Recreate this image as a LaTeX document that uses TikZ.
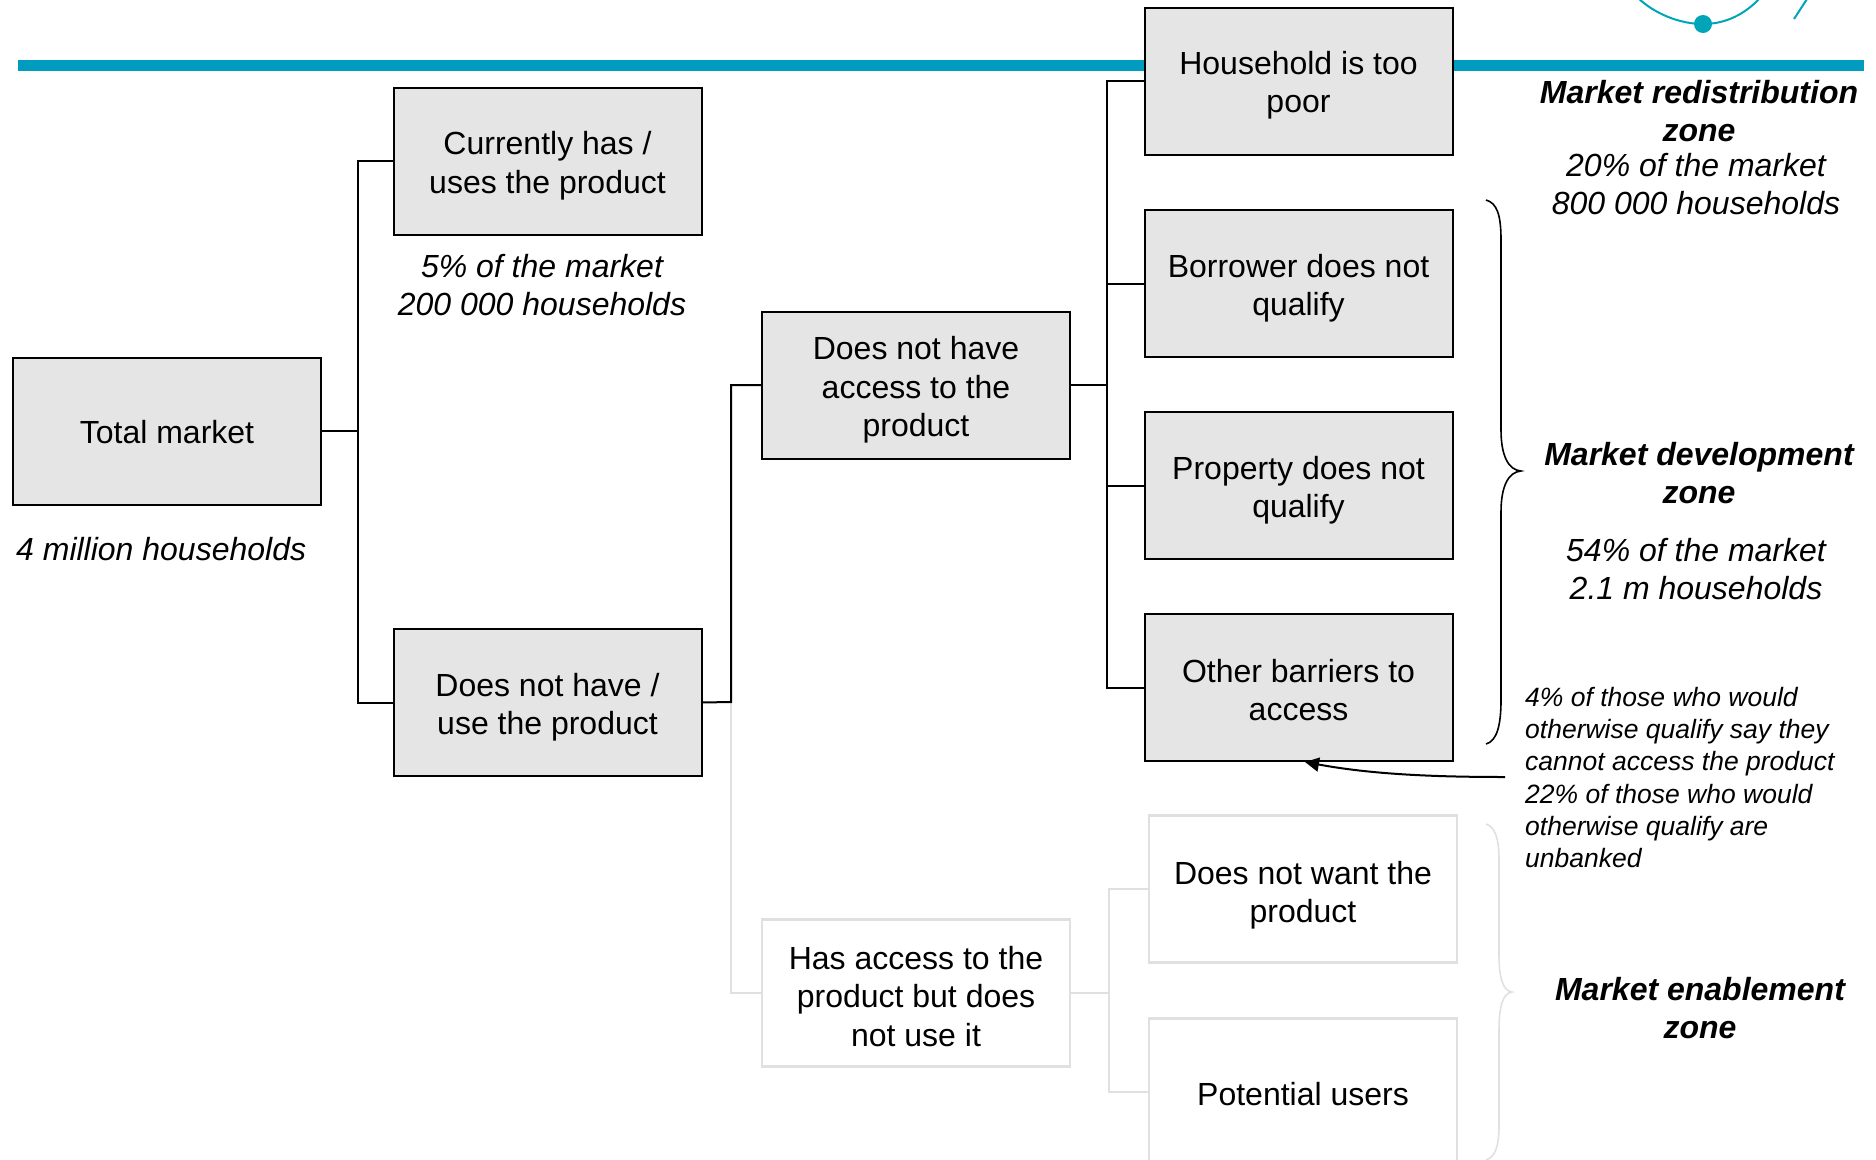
\documentclass[tikz,border=0pt]{standalone}
\usepackage{fontspec}
\setmainfont{Liberation Sans}
\usetikzlibrary{arrows.meta}
\definecolor{teal1}{HTML}{009CC0}
\definecolor{teal2}{HTML}{00A5B8}
\definecolor{boxgrey}{HTML}{E5E5E5}
\definecolor{linegrey}{HTML}{E0E0E0}
\newcommand{\boxlines}[2]{\vbox{\kern#1pt\hsize=300pt\centering #2\par}}
\tikzset{
  x=1pt,y=-1pt,
  boxtext/.style={font=\fontsize{32}{38.2}\selectfont,text=black,inner sep=0pt,outer sep=0pt,minimum width=308pt,minimum height=147pt},
  darkbox/.style={boxtext,draw=black,fill=boxgrey,line width=2pt},
  lightbox/.style={boxtext,draw=linegrey,fill=white,line width=2.6pt},
  darkline/.style={draw=black,line width=2pt},
  lightline/.style={draw=linegrey,line width=2.4pt},
  noteit/.style={font=\fontsize{32}{38.2}\selectfont\itshape,align=center,inner sep=0pt,text=black},
  zonehead/.style={font=\fontsize{32}{38.2}\selectfont\bfseries\itshape,align=center,inner sep=0pt},
  smallnote/.style={font=\fontsize{26.5}{32.2}\selectfont\itshape,align=left,inner sep=0pt,text=black},
}
\begin{document}
\begin{tikzpicture}
\useasboundingbox (0,0) rectangle (1876,1159);
\clip (0,0) rectangle (1876,1159);
% top band and logo fragment
\fill[teal1] (18,60) rectangle (1864,71);
\draw[teal2,line width=2pt] (1638,-2) .. controls (1655,14) and (1680,24) .. (1703,24) .. controls (1726,24) and (1745,14) .. (1760,-2);
\fill[teal2] (1703,24) circle (9);
\draw[teal2,line width=2pt] (1807,-1) -- (1794,19);
% junctions
\coordinate (j1) at (358,431);
\coordinate (j2) at (731,702);
\coordinate (j3) at (1107,385);
\coordinate (j4) at (1109,993);
% light connectors first
\node[lightbox] (hasacc) at (916,993) {\boxlines{7}{Has access to the\\product but does\\not use it}};
\node[lightbox] (nowant) at (1303,889) {\boxlines{12}{Does not want the\\product}};
\node[lightbox] (potent) at (1303,1092) {\boxlines{4.8}{Potential users}};
\draw[lightline] (j2) |- (hasacc.west);
\draw[lightline] (hasacc.east) -- (j4);
\draw[lightline] (nowant.west) -| (j4) |- (potent.west);
% dark boxes
\node[darkbox] (total) at (167,431) {\boxlines{2.4}{Total market}};
\node[darkbox] (curr) at (547.5,161) {\boxlines{9.6}{Currently has /\\uses the product}};
\node[darkbox] (nouse) at (547.5,702.5) {\boxlines{9.6}{Does not have /\\use the product}};
\node[darkbox] (noacc) at (916,385) {\boxlines{9.6}{Does not have\\access to the\\product}};
\node[darkbox] (poor) at (1298.5,81) {\boxlines{8.4}{Household is too\\poor}};
\node[darkbox] (borrow) at (1298.5,283.5) {\boxlines{9.6}{Borrower does not\\qualify}};
\node[darkbox] (prop) at (1298.5,485.5) {\boxlines{9.6}{Property does not\\qualify}};
\node[darkbox] (other) at (1298.5,687.5) {\boxlines{4.8}{Other barriers to\\access}};
% dark connectors
\draw[darkline] (total.east) -- (j1);
\draw[darkline] (curr.west) -| (j1) |- (nouse.west);
\draw[darkline] (nouse.east) -- (j2) |- (noacc.west);
\draw[darkline] (noacc.east) -- (j3);
\draw[darkline] (poor.west) -| (j3);
\draw[darkline] (borrow.west) -| (j3);
\draw[darkline] (prop.west) -| (j3);
\draw[darkline] (other.west) -| (j3);
% braces
\draw[black,line width=1.6pt] (1486,200) .. controls (1497,203) and (1501,215) .. (1501,240) -- (1501,430) .. controls (1501,455) and (1508,470) .. (1521,471) .. controls (1508,472) and (1501,487) .. (1501,512) -- (1501,700) .. controls (1501,725) and (1497,741) .. (1486,744);
\draw[linegrey,line width=1.6pt] (1486,824) .. controls (1495,827) and (1499,838) .. (1499,860) -- (1499,955) .. controls (1499,978) and (1503,991) .. (1512,992) .. controls (1503,993) and (1499,1006) .. (1499,1030) -- (1499,1125) .. controls (1499,1147) and (1495,1157) .. (1486,1160);
% callout
\coordinate (calloutstart) at (1505,777);
\coordinate (callouttip) at (1305,762);
\draw[black,line width=2pt,-{Triangle[length=14pt,width=14pt]}] (calloutstart) .. controls (1430,777) and (1370,774) .. (callouttip);
% notes
\node[noteit,anchor=west] (nt) at (16,549) {4 million households};
\node[noteit] (nc) at (542,285) {5\% of the market\\200 000 households};
\node[zonehead] (z1) at (1699,111) {Market redistribution\\zone};
\node[noteit] (s1) at (1696,184) {20\% of the market\\800 000 households};
\node[zonehead] (z2) at (1699,473) {Market development\\zone};
\node[noteit] (s2) at (1696,569) {54\% of the market\\2.1 m households};
\node[zonehead] (z3) at (1700,1008) {Market enablement\\zone};
\node[smallnote,anchor=north west] (sn) at (1525,687) {4\% of those who would\\otherwise qualify say they\\cannot access the product\\22\% of those who would\\otherwise qualify are\\unbanked};
\end{tikzpicture}
\end{document}
